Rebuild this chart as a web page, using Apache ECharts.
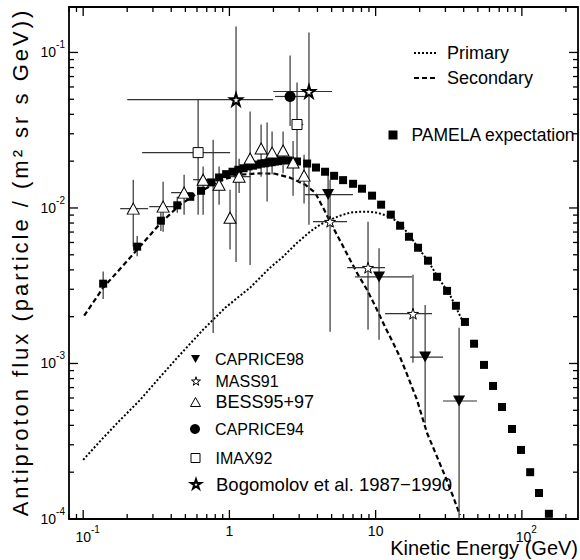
<!DOCTYPE html>
<html><head><meta charset="utf-8">
<script src="https://cdn.jsdelivr.net/npm/echarts@6/dist/echarts.min.js"></script>
<style>html,body{margin:0;padding:0;background:#fff}#c{width:580px;height:560px}</style>
</head><body><div id="c"></div>
<script>
// ---------- data ----------
const pamelaE = [0.137,0.234,0.34,0.44,0.54,0.64,0.75,0.85,0.95,1.05,1.15,1.25,1.35,1.45,1.55,1.65,1.75,1.85,1.95,2.05,2.15,2.25,
  2.52,2.90,3.40,3.91,4.51,5.20,5.99,7.01,8.07,9.45,10.9,12.7,14.7,16.9,19.5,22.8,26.3,30.8,35.4,40.8,47.1,55.1,63.5,73.1,85.6,98.6,114,131,153];
const pamelaF = [0.00326,0.00564,0.00828,0.0104,0.0118,0.0129,0.0146,0.0157,0.0165,0.0171,0.0176,0.0180,0.0185,0.0187,0.0190,0.0193,0.0194,0.0196,0.0197,0.0199,0.0200,0.0202,
  0.0202,0.0199,0.0193,0.0182,0.0171,0.0161,0.0151,0.0143,0.0133,0.0120,0.0105,0.00906,0.00769,0.00653,0.00555,0.00458,0.00361,0.00293,0.00235,0.00185,0.00134,0.000979,0.000717,0.000525,0.000379,0.000278,0.000200,0.000147,0.000108];

const secondaryE = [0.1016,0.137,0.234,0.336,0.46,0.631,0.864,1.184,1.621,2.053,2.599,3.291,3.854,4.371,4.879,5.712,6.683,7.582,8.736,10.06,11.6,13.15,14.68,16.65,19.19,22.46,25.47,29.81,33.81,37.74];
const secondaryF = [0.00203,0.00307,0.00539,0.00793,0.0105,0.01273,0.0150,0.01638,0.0167,0.0166,0.01567,0.01413,0.01255,0.01005,0.00816,0.00616,0.00465,0.00372,0.00298,0.00228,0.00172,0.00136,0.0011,0.00082,0.000583,0.000357,0.00027,0.000189,0.00014,0.000106];

const primaryE = [0.1,0.1307,0.179,0.2453,0.336,0.46,0.661,0.9346,1.385,1.897,2.328,2.857,3.561,4.169,4.879,5.712,6.683,7.825,8.874,10.22,12.55,14.68,16.92,19.49,22.81,26.29,32.25,39.56];
const primaryF = [0.00024,0.000317,0.000433,0.000583,0.00082,0.00114,0.00165,0.00228,0.00307,0.00413,0.00486,0.00589,0.00704,0.00781,0.00841,0.00892,0.00933,0.00947,0.00947,0.00933,0.00879,0.00793,0.00673,0.00555,0.00458,0.00366,0.00276,0.00185];

// [E, F, Elow, Ehigh, Flow, Fhigh]
const caprice98 = [[4.73,0.0122,3.29,7.0,0.0085,0.0165],[10.55,0.0036,7.23,17.7,0.00142,0.0055],[21.8,0.0011,17.2,28.9,0.000414,0.00238],[37.2,0.000574,28.9,49.3,0.00009,0.0017]];
const mass91 = [[4.88,0.00816,3.73,6.38,0.0016,0.0152],[8.87,0.00413,6.38,11.6,0.00165,0.00816],[18.0,0.00209,11.6,24.3,0.00101,0.00372]];
const bess = [[0.22,0.0099,0.179,0.278,0.00563,0.0152],[0.352,0.0102,0.283,0.4255,0.00704,0.01476],[0.49,0.01255,0.3995,0.5647,0.00906,0.01638],
  [0.661,0.0152,0.5647,0.7987,0.00906,0.01845],[0.85,0.0141,null,null,0.0105,0.01845],[1.01,0.00866,null,null,0.0054,0.0131],
  [1.165,0.0159,1.0,1.4,0.0125,0.0207],[1.385,0.0208,null,null,0.0043,0.0417],[1.647,0.0241,null,null,0.0159,0.0344],
  [1.958,0.0227,null,null,0.0165,0.031],[2.328,0.0234,null,null,0.0167,0.031],[2.725,0.01958,null,null,0.012,0.027],[3.24,0.01614,null,null,0.0107,0.022]];
const caprice94 = [[2.6,0.0521,2.05,3.3,0.0336,0.0957]];
const imax92 = [[0.611,0.0227,0.253,1.011,0.00906,0.0498],[2.9,0.0344,2.7,3.2,0.0191,0.0641]];
const bogomolov = [[1.11,0.0498,0.2,1.99,0.0045,0.147],[3.5,0.0561,1.99,5.03,0.0078,0.1345]];
const lowErr = [[0.137,0.00326,null,null,0.0026,0.0039],[0.234,0.00564,null,null,0.0049,0.0066],[0.34,0.00828,null,null,0.0071,0.0097],[0.44,0.0104,null,null,0.0093,0.0118],
  [0.774,0.015,null,null,0.00157,0.0275],[1.81,0.0195,null,null,0.011,0.0354]];

const xMajorTicks = [0.1,1,10,100];
const xMinorTicks = [0.08,0.09,0.2,0.3,0.4,0.5,0.6,0.7,0.8,0.9,2,3,4,5,6,7,8,9,20,30,40,50,60,70,80,90,200];
const yMajorTicks = [0.0001,0.001,0.01,0.1];
const yMinorTicks = [0.0002,0.0003,0.0004,0.0005,0.0006,0.0007,0.0008,0.0009,0.002,0.003,0.004,0.005,0.006,0.007,0.008,0.009,0.02,0.03,0.04,0.05,0.06,0.07,0.08,0.09];

const X_MIN = 0.08, X_MAX = 242, Y_MIN = 0.0001, Y_MAX = 0.196;
// ---------- chart ----------
const FONT = '"Liberation Sans", Arial, Helvetica, sans-serif';
const chart = echarts.init(document.getElementById('c'), null, {renderer: 'svg'});

function zipXY(a, b) { return a.map((v, i) => [v, b[i]]); }
function pts(arr) { return arr.map(d => [d[0], d[1]]); }

function errRender(params, api) {
  const x = api.value(0), y = api.value(1);
  const c = api.coord([x, y]);
  const ch = [];
  const st = {stroke: '#333', lineWidth: 1.2};
  const xl = api.value(2), xh = api.value(3), yl = api.value(4), yh = api.value(5);
  if (!isNaN(xl) && !isNaN(xh) && xl > 0) {
    const a = api.coord([xl, y]), b = api.coord([xh, y]);
    ch.push({type: 'line', shape: {x1: a[0], y1: c[1], x2: b[0], y2: c[1]}, style: st});
  }
  if (!isNaN(yl) && !isNaN(yh) && yl > 0) {
    const a = api.coord([x, yl]), b = api.coord([x, yh]);
    ch.push({type: 'line', shape: {x1: c[0], y1: a[1], x2: c[0], y2: b[1]}, style: st});
  }
  return {type: 'group', children: ch};
}
function errSeries(data) {
  return {type: 'custom', renderItem: errRender, data: data, clip: true, z: 3, silent: true,
    encode: {x: 0, y: 1}, dimensions: ['x','y','xl','xh','yl','yh']};
}

const tickData = [];
xMajorTicks.forEach(v => tickData.push([v, 0.01, 0, 1]));
xMinorTicks.forEach(v => tickData.push([v, 0.01, 0, 0]));
yMajorTicks.forEach(v => tickData.push([1, v, 1, 1]));
yMinorTicks.forEach(v => tickData.push([1, v, 1, 0]));

function tickRender(params, api) {
  const cs = params.coordSys;
  const axis = api.value(2), major = api.value(3);
  const L = major ? 9 : 5;
  const st = {stroke: '#000', lineWidth: 1.3};
  if (axis === 0) {
    const p = api.coord([api.value(0), api.value(1)])[0];
    const b = cs.y + cs.height, t = cs.y;
    return {type: 'group', children: [
      {type: 'line', shape: {x1: p, y1: b, x2: p, y2: b - L}, style: st},
      {type: 'line', shape: {x1: p, y1: t, x2: p, y2: t + L}, style: st}]};
  } else {
    const p = api.coord([api.value(0), api.value(1)])[1];
    const l = cs.x, r = cs.x + cs.width;
    return {type: 'group', children: [
      {type: 'line', shape: {x1: l, y1: p, x2: l + L, y2: p}, style: st},
      {type: 'line', shape: {x1: r, y1: p, x2: r - L, y2: p}, style: st}]};
  }
}

function powLabel(isX) {
  return function (v) {
    const lg = Math.log10(v);
    const e = Math.round(lg);
    if (Math.abs(lg - e) > 1e-6) return '';
    if (e === 0) return '{b|1}';
    if (e === 1) return '{b|10}';
    return '{' + (isX ? 'bp' : 'b') + '|10}{s|' + (e < 0 ? '-' + (-e) : e) + '}';
  };
}
const richLab = {
  b: {fontSize: 14, fontFamily: FONT, color: '#000'},
  bp: {fontSize: 14, fontFamily: FONT, color: '#000', padding: [0, 0, 0, 9]},
  s: {fontSize: 10, fontFamily: FONT, color: '#000', padding: [0, 0, 15, 0]}
};

const STAR = 'path://M50,0 L61,35 L98,35 L68,57 L79,91 L50,70 L21,91 L32,57 L2,35 L39,35 Z';
const TRI_DOWN = 'path://M0,0 L100,0 L50,90 Z';
const TRI_UP = 'path://M50,0 L100,90 L0,90 Z';

function legendOne(name, left, cy, size, pad, fs, itemStyle) {
  const o = {data: [name], left: left, top: cy - 10, padding: 0, itemWidth: size, itemHeight: size,
    selectedMode: false, textStyle: {fontSize: fs || 16, fontFamily: FONT, color: '#000', lineHeight: 20, padding: [0, 0, 0, pad]}};
  if (itemStyle) o.itemStyle = itemStyle;
  return o;
}
const openStyle = {color: '#fff', borderColor: '#000', borderWidth: 1};

const option = {
  backgroundColor: '#fff',
  animation: false,
  grid: {left: 69, right: 2, top: 7, bottom: 41, show: true, borderColor: '#000', borderWidth: 1.8, backgroundColor: 'transparent'},
  xAxis: {type: 'log', logBase: 10, min: X_MIN, max: X_MAX,
    axisLine: {show: false}, axisTick: {show: false}, splitLine: {show: false},
    axisLabel: {formatter: powLabel(true), rich: richLab, margin: 5, showMinLabel: false, showMaxLabel: false, hideOverlap: false}},
  yAxis: {type: 'log', logBase: 10, min: Y_MIN, max: Y_MAX,
    axisLine: {show: false}, axisTick: {show: false}, splitLine: {show: false},
    axisLabel: {formatter: powLabel(false), rich: richLab, margin: 4, showMinLabel: true, showMaxLabel: false}},
  legend: [
    {data: ['Primary', 'Secondary'], orient: 'vertical', left: 413, top: 43, padding: 0, itemGap: 5, itemWidth: 24, itemHeight: 20,
      selectedMode: false, itemStyle: {opacity: 0, color: 'rgba(0,0,0,0)', borderWidth: 0},
      textStyle: {fontSize: 18, fontFamily: FONT, color: '#000', lineHeight: 20, padding: [0, 0, 0, 4]}},
    legendOne('PAMELA expectation', 388.5, 135, 9, 9, 17.5, {color: '#000', borderWidth: 0}),
    legendOne('CAPRICE98', 191, 359, 9, 10, 16, {color: '#000', borderWidth: 0}),
    legendOne('MASS91', 191, 381, 9, 10, 16, openStyle),
    legendOne('BESS95+97', 190, 402, 10, 10, 18, openStyle),
    legendOne('CAPRICE94', 190, 429, 10, 10, 16, {color: '#000', borderWidth: 0}),
    legendOne('IMAX92', 190.5, 458, 9, 10.5, 16, openStyle),
    legendOne('Bogomolov et al. 1987\u22121990', 190, 484, 10, 10, 18.5, {color: '#fff', borderColor: '#000', borderWidth: 2})
  ],
  graphic: [
    {type: 'text', right: 2, top: 538, style: {text: 'Kinetic Energy (GeV)', font: '20px ' + FONT, fill: '#000'}, z: 100},
    {type: 'text', x: 20, y: 262, rotation: Math.PI / 2, style: {text: 'Antiproton flux (particle / (m\u00b2 sr s GeV))', font: '22px ' + FONT, fill: '#000', align: 'center', verticalAlign: 'middle'}}
  ],
  series: [
    {type: 'custom', renderItem: tickRender, data: tickData, clip: false, silent: true, z: 10, encode: {x: 0, y: 1}},
    {name: 'Primary', type: 'line', data: zipXY(primaryE, primaryF), showSymbol: false, symbol: 'none', z: 2,
      lineStyle: {color: '#000', width: 2, type: [2, 2]}, itemStyle: {color: 'rgba(0,0,0,0)'}},
    {name: 'Secondary', type: 'line', data: zipXY(secondaryE, secondaryF), showSymbol: false, symbol: 'none', z: 2,
      lineStyle: {color: '#000', width: 2.2, type: [5, 3]}, itemStyle: {color: 'rgba(0,0,0,0)'}},
    errSeries(lowErr),
    errSeries(caprice98), errSeries(mass91), errSeries(bess), errSeries(caprice94), errSeries(imax92), errSeries(bogomolov),
    {name: 'PAMELA expectation', type: 'scatter', data: zipXY(pamelaE, pamelaF), symbol: 'rect', symbolSize: 8, z: 4,
      itemStyle: {color: '#000', opacity: 1}},
    {name: 'CAPRICE98', type: 'scatter', data: pts(caprice98), symbol: TRI_DOWN, symbolSize: [12, 11], z: 5,
      itemStyle: {color: '#000', opacity: 1}},
    {name: 'MASS91', type: 'scatter', data: pts(mass91), symbol: STAR, symbolSize: 11, z: 5,
      itemStyle: {color: '#fff', borderColor: '#000', borderWidth: 1, opacity: 1}},
    {name: 'BESS95+97', type: 'scatter', data: pts(bess), symbol: TRI_UP, symbolSize: [12, 11], z: 5,
      itemStyle: {color: '#fff', borderColor: '#000', borderWidth: 1, opacity: 1}},
    {name: 'CAPRICE94', type: 'scatter', data: pts(caprice94), symbol: 'circle', symbolSize: 11, z: 5,
      itemStyle: {color: '#000', opacity: 1}},
    {name: 'IMAX92', type: 'scatter', data: pts(imax92), symbol: 'rect', symbolSize: 10, z: 5,
      itemStyle: {color: '#fff', borderColor: '#000', borderWidth: 1, opacity: 1}},
    {name: 'Bogomolov et al. 1987\u22121990', type: 'scatter', data: pts(bogomolov), symbol: STAR, symbolSize: 12, z: 5,
      itemStyle: {color: '#fff', borderColor: '#000', borderWidth: 2, opacity: 1}}
  ]
};
chart.setOption(option);
function spaceTitle() {
  document.querySelectorAll('#c text').forEach(function (t) {
    if (t.textContent.indexOf('Antiproton') === 0) { t.style.letterSpacing = '3px'; }
  });
}
spaceTitle();
chart.on('finished', spaceTitle);
setTimeout(spaceTitle, 50);
</script></body></html>
